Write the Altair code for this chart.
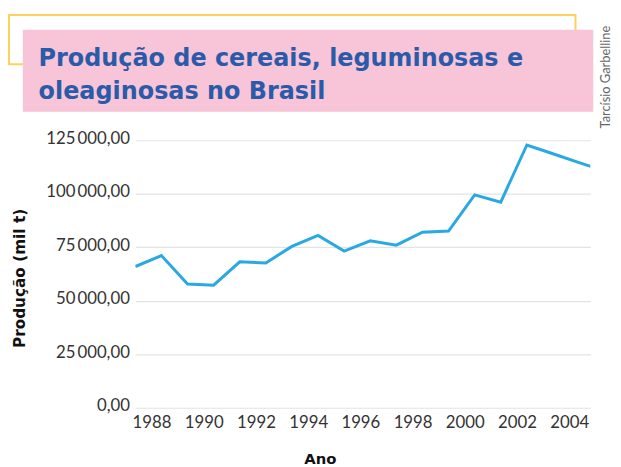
import altair as alt
import pandas as pd

# Data (mil t)
years = [1987, 1988, 1989, 1990, 1991, 1992, 1993, 1994, 1995, 1996,
         1997, 1998, 1999, 2000, 2001, 2002, 2003, 2004, 2005]
production = [66000, 71100, 57800, 57300, 68200, 67700, 75400, 80500, 73200, 78000,
              76000, 82000, 82600, 99500, 96100, 122800, 118700, 114600, 110500]

x_ticks = [1988, 1990, 1992, 1994, 1996, 1998, 2000, 2002, 2004]
y_ticks = [0, 25000, 50000, 75000, 100000, 125000]

title_lines = ["Produção de cereais, leguminosas e", "oleaginosas no Brasil"]
credit = "Tarcísio Garbelline"
x_title = "Ano"
y_title = "Produção (mil t)"

df = pd.DataFrame({"year": years, "value": production})
one = pd.DataFrame({"k": [0]})

LABEL_FONT = "Lato"
TITLE_FONT = "DejaVu Sans"
y_label_expr = ("replace(replace(format(datum.value, ',.2f'), regexp(',', 'g'), '\u2009'), '.', ',')")

line = alt.Chart(df).mark_line(color="#29a9e1", strokeWidth=3, clip=True).encode(
    x=alt.X("year:Q",
            scale=alt.Scale(domain=[1987, 2004.43], nice=False, zero=False),
            axis=alt.Axis(values=x_ticks, format="d", title=x_title, grid=False,
                          domain=False, ticks=False, labelOffset=-10, labelPadding=7,
                          labelFont=LABEL_FONT, labelFontSize=17, labelColor="#333333",
                          titleFont=TITLE_FONT, titleFontSize=15, titleFontWeight="bold",
                          titleColor="#111111", titleX=187, titleY=51,
                          titleBaseline="middle", titleAlign="center")),
    y=alt.Y("value:Q",
            scale=alt.Scale(domain=[0, 125000], nice=False),
            axis=alt.Axis(values=y_ticks, labelExpr=y_label_expr, title=y_title,
                          grid=True, gridColor="#e3e3e3", gridWidth=1.2,
                          domain=False, ticks=False, labelPadding=6, labelOffset=-2,
                          labelFont=LABEL_FONT, labelFontSize=17, labelColor="#333333",
                          titleFont=TITLE_FONT, titleFontSize=15.5, titleFontWeight="bold",
                          titleColor="#111111", titleAngle=270, titleX=-117, titleY=139.5,
                          titleBaseline="middle", titleAlign="center")),
)

yellow_box = alt.Chart(one).mark_rect(fill="white", fillOpacity=0, stroke="#ffd15c",
                                      strokeWidth=2).encode(
    x=alt.value(-128), x2=alt.value(446), y=alt.value(-127), y2=alt.value(-77))

pink_box = alt.Chart(one).mark_rect(fill="#f8c5d8").encode(
    x=alt.value(-114), x2=alt.value(464), y=alt.value(-112), y2=alt.value(-29))

title_text = alt.Chart(one).mark_text(align="left", baseline="alphabetic",
                                      font=TITLE_FONT, fontSize=24.2, fontWeight="bold",
                                      color="#2b5ba8", lineHeight=33).encode(
    x=alt.value(-98), y=alt.value(-75), text=alt.value(title_lines))

credit_text = alt.Chart(one).mark_text(align="center", baseline="middle", angle=270,
                                       font=LABEL_FONT, fontSize=13, color="#666666").encode(
    x=alt.value(477), y=alt.value(-64), text=alt.value(credit))

chart = alt.layer(line, yellow_box, pink_box, title_text, credit_text).properties(
    width=461, height=271,
    autosize=alt.AutoSizeParams(type="none"),
    padding={"left": 129, "top": 131, "right": 23, "bottom": 56},
).configure_view(stroke=None)

chart.save("out.html", embed_options={"renderer": "svg", "actions": False})
